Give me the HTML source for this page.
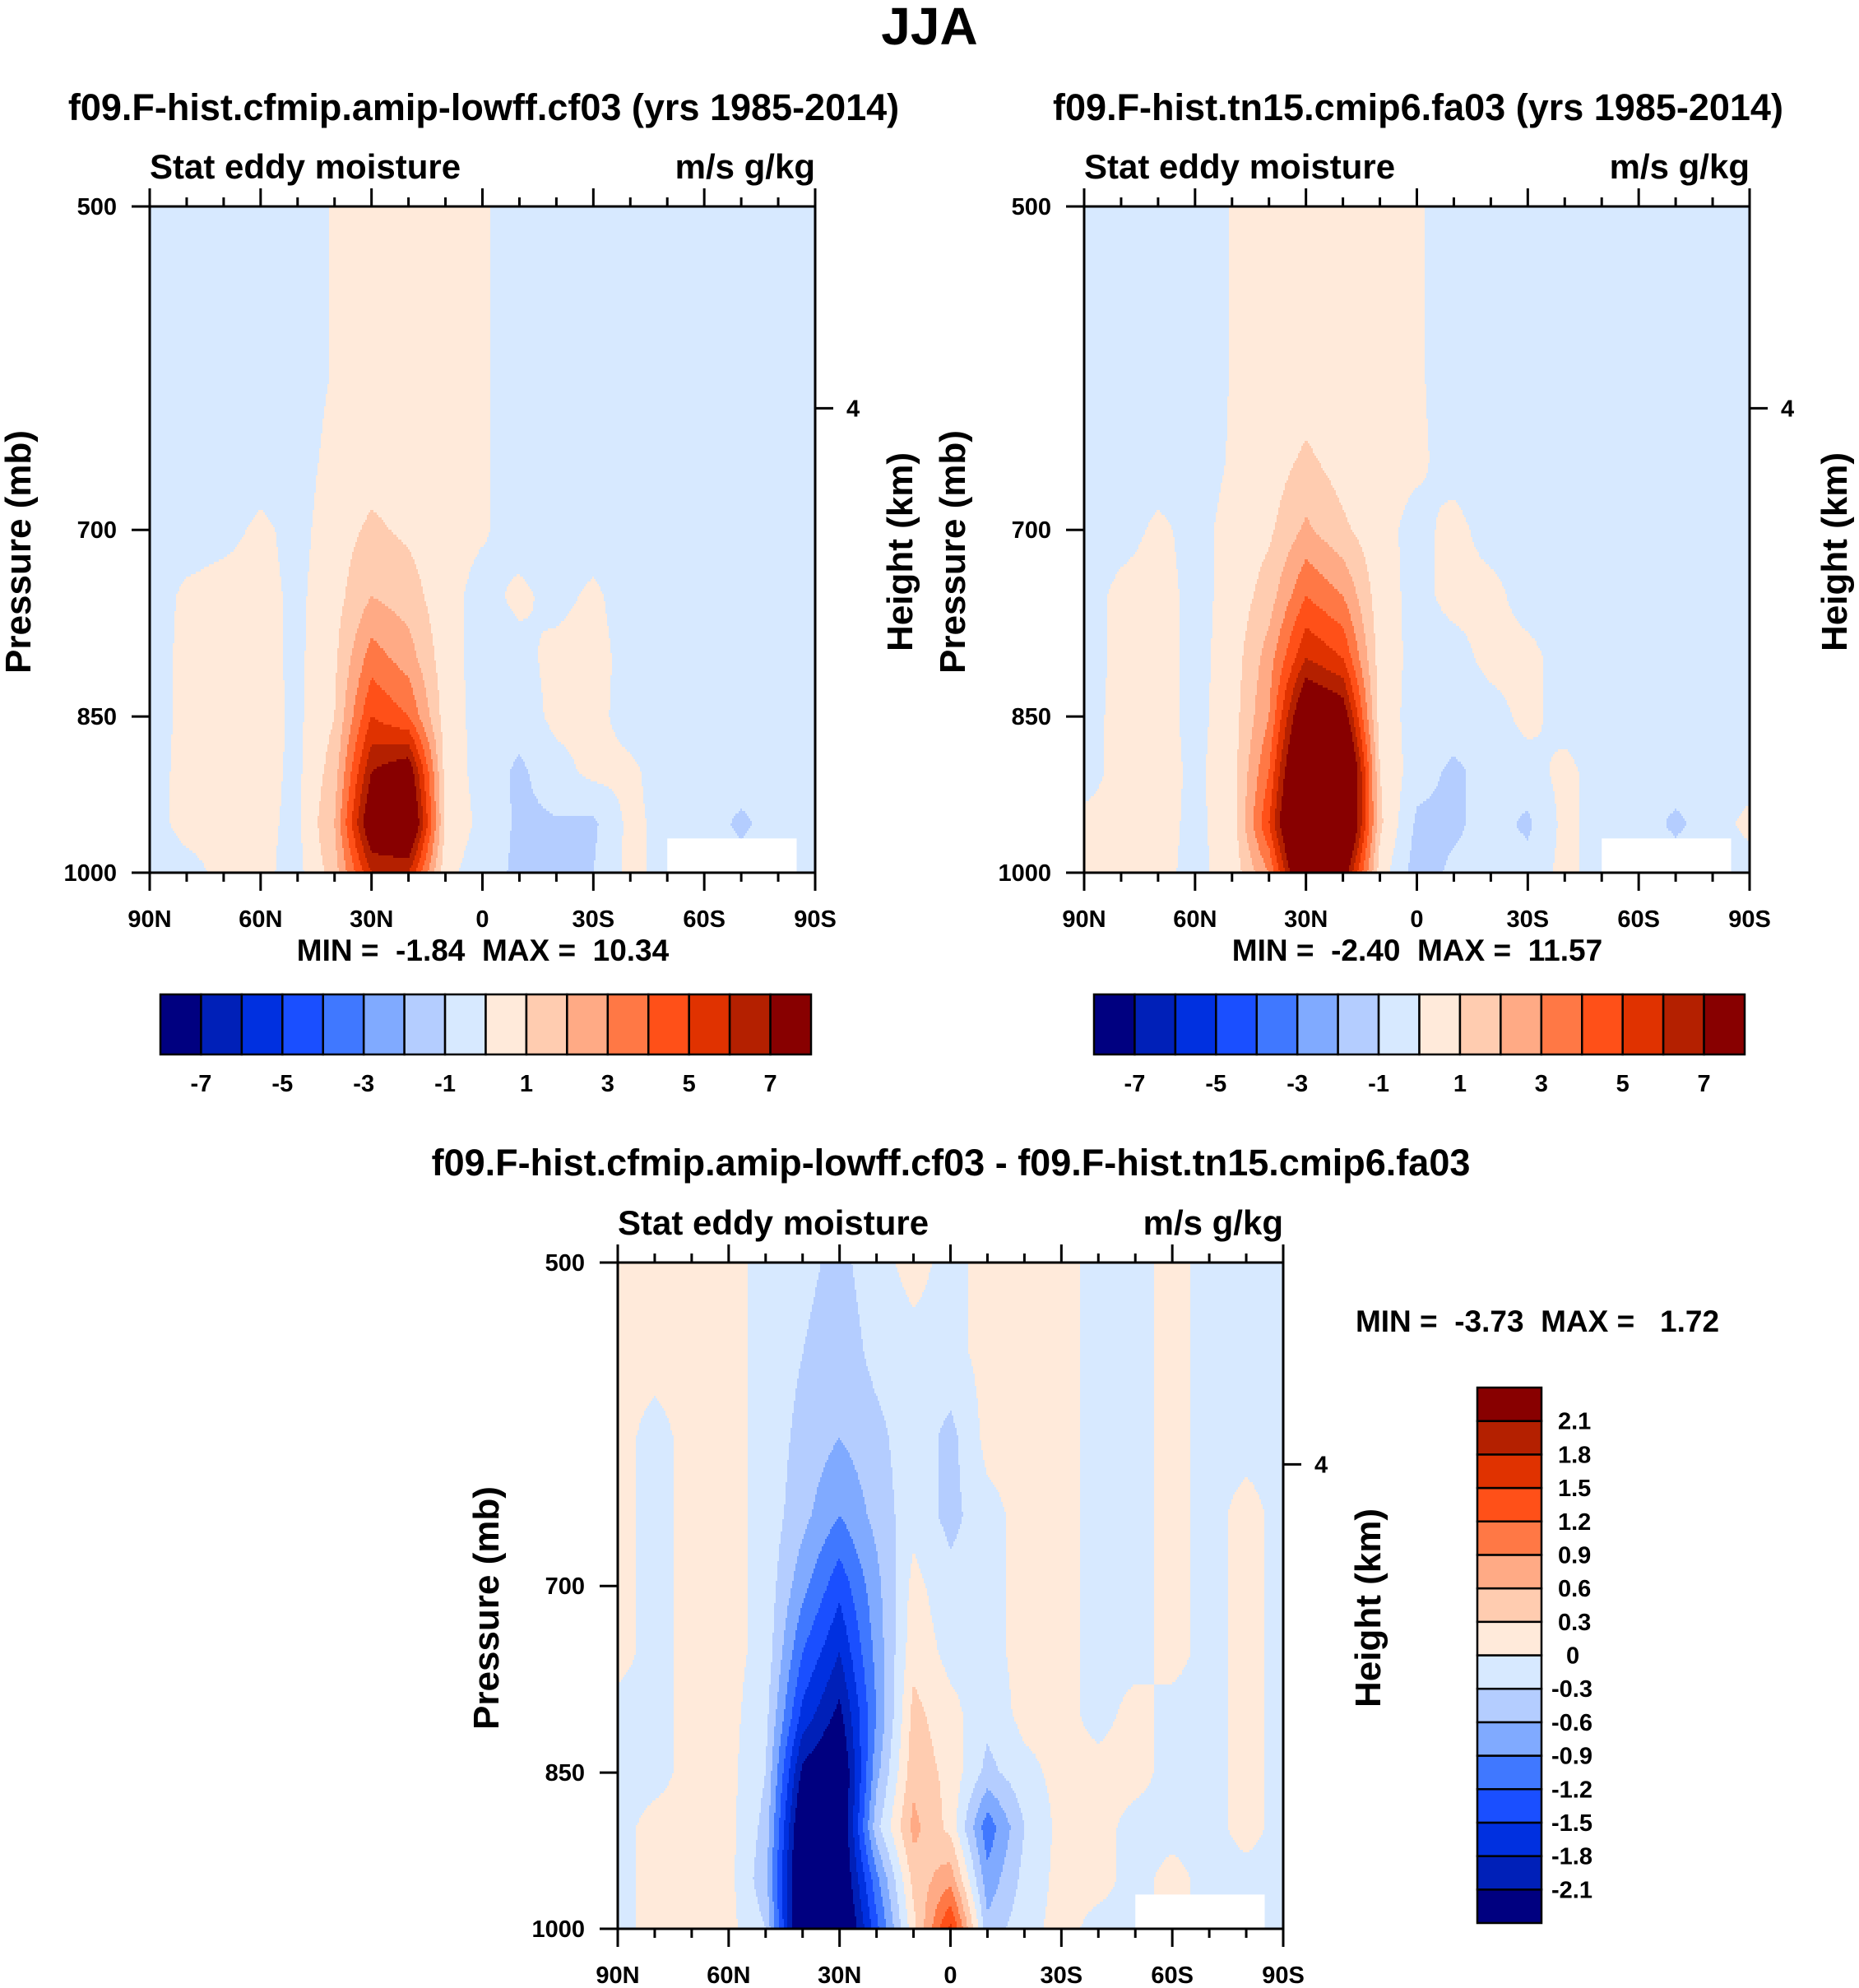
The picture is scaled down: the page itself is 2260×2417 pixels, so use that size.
<!DOCTYPE html>
<html><head><meta charset="utf-8">
<style>
html,body{margin:0;padding:0;background:#fff;}
svg{display:block;font-family:"Liberation Sans",Arial,sans-serif;font-weight:bold;}
.pre{white-space:pre;}
</style></head>
<body>
<svg id="fig" width="2260" height="2417" viewBox="0 0 2260 2417" xmlns="http://www.w3.org/2000/svg">
<text x="1130" y="54" font-size="64" text-anchor="middle">JJA</text>
</svg>
<script>
// ---- data ----
const lats = [90,80,70,60,50,40,30,20,10,0,-10,-20,-30,-40,-50,-60,-70,-80,-90];
const levelsP = [500,550,600,650,700,750,800,850,900,950,1000];
const modelLevels = [-7,-6,-5,-4,-3,-2,-1,0,1,2,3,4,5,6,7];
const modelTickLabels = ["-7","-5","-3","-1","1","3","5","7"];
const diffLevels = [-2.1,-1.8,-1.5,-1.2,-0.9,-0.6,-0.3,0,0.3,0.6,0.9,1.2,1.5,1.8,2.1];
const diffTickLabels = ["-2.1","-1.8","-1.5","-1.2","-0.9","-0.6","-0.3","0","0.3","0.6","0.9","1.2","1.5","1.8","2.1"];
const colors = ["#000080","#0020b8","#0030e0","#1a4fff","#4078ff","#80aaff","#b4cdff","#d7e9ff","#ffeada","#ffccb0","#ffaa85","#ff7845","#ff5018","#e03200","#b42000","#880000"];
const latTicks = [90,60,30,0,-30,-60,-90];
const latTickLabels = ["90N","60N","30N","0","30S","60S","90S"];
const pTicks = [500,700,850,1000];
const missLat = [-50,-85];
const missP = [965,1000];

const grid1 = [
[-.5,-.5,-.5,-.5,-.5,.1,.3,.3,.3,.15,-.5,-.5,-.5,-.5,-.5,-.5,-.5,-.5,-.5],
[-.5,-.5,-.5,-.5,-.5,.1,.3,.3,.3,.15,-.5,-.5,-.5,-.5,-.5,-.5,-.5,-.5,-.5],
[-.5,-.5,-.5,-.5,-.5,.1,.3,.3,.3,.15,-.5,-.5,-.5,-.5,-.5,-.5,-.5,-.5,-.5],
[-.5,-.5,-.5,-.5,-.4,.3,.5,.4,.3,.15,-.5,-.5,-.5,-.5,-.5,-.5,-.5,-.5,-.5],
[-.5,-.5,-.3,.2,-.3,.5,1.2,.8,.3,.1,-.4,-.4,-.5,-.5,-.5,-.5,-.5,-.5,-.5],
[-.5,.2,.4,.3,-.2,.6,2,1.5,.3,-.3,.2,-.3,.2,-.5,-.5,-.5,-.5,-.5,-.5],
[-.5,.3,.5,.3,-.2,.8,3.5,2.5,.4,-.4,-.3,.3,.4,-.4,-.5,-.5,-.5,-.5,-.5],
[-.5,.3,.5,.4,-.2,1,5,4,.5,-.4,-.6,.3,.3,-.4,-.5,-.5,-.5,-.5,-.5],
[-.5,.4,.4,.3,-.2,1.5,7,8,.6,-.4,-1.2,-.4,.3,.2,-.5,-.5,-.5,-.5,-.5],
[-.5,.4,.4,.2,-.2,2,8.5,9.5,.8,-.3,-1.2,-1.1,-1.2,.3,-.4,-.5,-1.2,-.5,-.5],
[-.5,-.4,.3,.2,-.3,1.5,6,6,.3,-.6,-1.2,-1.1,-1,.3,-.4,-.5,-.6,-.5,-.5]
];
const grid2 = [
[-.5,-.5,-.5,-.5,.05,.3,.3,.3,.3,.15,-.5,-.5,-.5,-.5,-.5,-.5,-.5,-.5,-.5],
[-.5,-.5,-.5,-.5,.05,.3,.3,.3,.3,.15,-.5,-.5,-.5,-.5,-.5,-.5,-.5,-.5,-.5],
[-.5,-.5,-.5,-.5,.05,.3,.4,.3,.3,.15,-.5,-.5,-.5,-.5,-.5,-.5,-.5,-.5,-.5],
[-.5,-.5,-.5,-.5,.1,.4,1.2,.5,.3,.2,-.4,-.5,-.5,-.5,-.5,-.5,-.5,-.5,-.5],
[-.5,-.4,.2,-.3,.3,.8,2.2,1.2,.3,-.3,.3,-.4,-.4,-.5,-.5,-.5,-.5,-.5,-.5],
[-.5,.3,.4,-.3,.3,1.5,4,3,.4,-.3,.3,.3,-.4,-.5,-.5,-.5,-.5,-.5,-.5],
[-.5,.3,.4,-.3,.4,2.5,6,5,.5,-.3,-.4,.3,.3,-.4,-.5,-.5,-.5,-.5,-.5],
[-.5,.4,.4,-.3,.5,3,9,8,.5,-.4,-.5,-.4,.3,-.4,-.5,-.5,-.5,-.5,-.5],
[-.5,.4,.4,-.2,.5,4,11,11,1,-.6,-1.2,-.6,-.4,.3,-.5,-.5,-.5,-.5,-.5],
[.3,.4,.3,-.2,.4,5,12,11,1.2,-1.2,-1.2,-.6,-1.2,.3,-.5,-.5,-1.2,-.5,.3],
[.2,.4,.2,-.2,.3,3,10,8,.5,-1.5,-.8,-.6,-.6,.3,-.5,-.5,-.5,-.5,-.5]
];
const grid3 = [
[.1,.1,.1,.1,-.1,-.2,-.4,-.1,.1,-.1,.1,.1,.1,-.1,-.1,.1,-.1,-.1,-.1],
[.1,.1,.1,.1,-.1,-.3,-.5,-.2,-.1,-.1,.1,.1,.1,-.1,-.1,.1,-.1,-.1,-.1],
[.1,-.1,.1,.1,-.1,-.4,-.6,-.4,-.1,-.4,.1,.1,.1,-.1,-.1,.1,-.1,-.1,-.1],
[.1,-.1,.1,.1,-.1,-.5,-.9,-.5,-.1,-.4,-.1,.1,.1,-.1,-.1,.1,-.1,.1,-.1],
[.1,-.1,.1,.1,-.1,-.8,-1.4,-.7,.1,-.2,-.1,.1,.1,-.1,-.1,.1,-.1,.1,-.1],
[.1,-.1,.1,.1,-.1,-1.2,-1.8,-.8,.2,-.1,-.1,.1,.1,-.1,-.1,.1,-.1,.1,-.1],
[-.1,-.1,.1,.1,-.2,-1.6,-2.2,-.9,.4,.1,-.2,.1,.1,-.1,.1,-.1,-.1,.1,-.1],
[-.1,-.1,.1,.1,-.3,-2.2,-2.6,-.7,.5,.2,-.4,-.1,.1,.1,.1,-.1,-.1,.1,-.1],
[-.1,.1,.1,.1,-.4,-2.6,-2.6,-.4,.7,.2,-1.1,-.3,.1,.1,-.1,-.1,-.1,.1,-.1],
[-.1,.1,.1,.1,-.5,-2.8,-2.6,-1.0,.4,.8,-.8,-.2,.1,.1,-.1,.1,-.1,-.1,-.1],
[-.1,.1,.1,.1,-.3,-2.8,-2.8,-1.3,.2,1.6,-.5,-.1,.1,-.1,-.1,.1,-.1,-.1,-.1]
];

const NS="http://www.w3.org/2000/svg";
const svg=document.getElementById('fig');
function mk(tag,attrs,parent,txt){const e=document.createElementNS(NS,tag);for(const k in attrs)e.setAttribute(k,attrs[k]);if(txt!==undefined)e.textContent=txt;(parent||svg).appendChild(e);return e;}

function drawPanel(P){
  const g=mk('g',{});
  
  
  const x0=P.x,x1=P.x+P.w,y0=P.y,y1=P.y+P.h;
  const xOf=lat=>x0+(90-lat)/180*P.w;
  const yOf=p=>y0+Math.log(p/500)/Math.log(2)*P.h;
  const pOf=y=>500*Math.pow(2,(y-y0)/P.h);
  const la=levelsP.map(Math.log);
  const val=(lat,p)=>{
    let fi=(90-lat)/10; fi=Math.max(0,Math.min(17.9999,fi));
    const lp=Math.log(p);
    let j=0; while(j<levelsP.length-2&&lp>la[j+1])j++;
    let fj=(lp-la[j])/(la[j+1]-la[j]); fj=Math.max(0,Math.min(1,fj));
    const i=Math.floor(fi),ti=fi-i,G=P.grid;
    const a=G[j][i]*(1-ti)+G[j][i+1]*ti, b=G[j+1][i]*(1-ti)+G[j+1][i+1]*ti;
    return a*(1-fj)+b*fj;
  };
  const bin=v=>{let k=0;for(const L of P.levels)if(v>=L)k++;return k;};
  const cg=mk('g',{},g);
  
  
  const dy=3,dx=2;
  const flush=(start,end,y,c)=>{
    const r=mk('rect',{x:start,y:y,width:end-start+0.6,height:Math.min(dy+0.6,y1-y),fill:colors[c]},cg);
    
    
  };
  for(let y=y0;y<y1;y+=dy){
    const p=pOf(Math.min(y+dy/2,y1));
    let start=x0,cur=-1;
    for(let x=x0;x<x1;x+=dx){
      const b=bin(val(90-(Math.min(x+dx/2,x1)-x0)/P.w*180,p));
      if(b!==cur){
        if(cur>=0) flush(start,x,y,cur);
        start=x;cur=b;
      }
    }
    flush(start,x1,y,cur);
  }
  const mr=mk('rect',{x:xOf(missLat[0]),y:yOf(missP[0]),width:xOf(missLat[1])-xOf(missLat[0]),height:yOf(missP[1])-yOf(missP[0]),fill:'#fff'},g);
  
  
  const fr=mk('rect',{x:x0,y:y0,width:P.w,height:P.h,fill:'none',stroke:'#000','stroke-width':3},g);
  
  
  for(let lat=90;lat>=-90;lat-=10){
    const major=lat%30===0,L=major?22:11,x=xOf(lat);
    const t1=mk('line',{x1:x,x2:x,y1:y1,y2:y1+L,stroke:'#000','stroke-width':3},g);
    
    
    const t2=mk('line',{x1:x,x2:x,y1:y0,y2:y0-L,stroke:'#000','stroke-width':3},g);
    
    
  }
  latTicks.forEach((lat,i)=>{
    const t=mk('text',{x:xOf(lat),y:y1+66,'font-size':29,'text-anchor':'middle'},g,latTickLabels[i]);
    
    
  });
  pTicks.forEach(p=>{
    const y=yOf(p);
    const l=mk('line',{x1:x0-22,x2:x0,y1:y,y2:y,stroke:'#000','stroke-width':3},g);
    
    
    const t=mk('text',{x:x0-40,y:y+10,'font-size':29,'text-anchor':'end'},g,String(p));
    
    
  });
  const hy=y0+0.303*P.h;
  const hl=mk('line',{x1:x1,x2:x1+22,y1:hy,y2:hy,stroke:'#000','stroke-width':3},g);
  
  
  const ht=mk('text',{x:x1+38,y:hy+10,'font-size':29},g,'4');
  
  
  const cy=(y0+y1)/2;
  const yt=mk('text',{x:x0-145,y:cy+15,'font-size':44,'text-anchor':'middle',transform:`rotate(-90 ${x0-145} ${cy+15})`},g,'Pressure (mb)');
  
  
  const rx=x1+118;
  const rt=mk('text',{x:rx,y:cy+15,'font-size':44,'text-anchor':'middle',transform:`rotate(-90 ${rx} ${cy+15})`},g,'Height (km)');
  
  
  const l1=mk('text',{x:x0,y:y0-34,'font-size':42},g,'Stat eddy moisture');
  
  
  const l2=mk('text',{x:x1,y:y0-34,'font-size':42,'text-anchor':'end'},g,'m/s g/kg');
  
  
  const st=mk('text',{x:P.titleX,y:P.titleY,'font-size':45,'text-anchor':'middle'},g,P.title);
  
  
  const mm=mk('text',{x:P.mmX,y:P.mmY,'font-size':37,'text-anchor':'middle','class':'pre'},g,P.mm);
  
  
  const cb=mk('g',{},g);
  
  
  const C=P.cb;
  colors.forEach((c,i)=>{
    let r;
    if(C.vertical){const bh=C.h/16;r=mk('rect',{x:C.x,y:C.y+(15-i)*bh,width:C.w,height:bh,fill:c,stroke:'#000','stroke-width':2.5},cb);}
    else{const bw=C.w/16;r=mk('rect',{x:C.x+i*bw,y:C.y,width:bw,height:C.h,fill:c,stroke:'#000','stroke-width':2.5},cb);}
    
    
  });
  P.cbLabels.forEach(lab=>{
    const idx=P.levels.indexOf(parseFloat(lab))+1;
    let t;
    if(C.vertical){const y=C.y+(16-idx)*C.h/16;
      t=mk('text',{x:C.x+C.w+(lab==='0'?30:(lab[0]==='-'?12:20)),y:y+10,'font-size':29},cb,lab);}
    else{const x=C.x+idx*C.w/16;t=mk('text',{x:x,y:C.y+C.h+45,'font-size':29,'text-anchor':'middle'},cb,lab);}
    
    
  });
}
drawPanel({name:'panel-cfmip',x:182,y:251,w:809,h:810,grid:grid1,levels:modelLevels,cbLabels:modelTickLabels,
  title:'f09.F-hist.cfmip.amip-lowff.cf03 (yrs 1985-2014)',titleX:588,titleY:146,
  mm:'MIN =  -1.84  MAX =  10.34',mmX:587,mmY:1168,cb:{x:195,y:1209,w:791,h:73}});
drawPanel({name:'panel-cmip6',x:1318,y:251,w:809,h:810,grid:grid2,levels:modelLevels,cbLabels:modelTickLabels,
  title:'f09.F-hist.tn15.cmip6.fa03 (yrs 1985-2014)',titleX:1724,titleY:146,
  mm:'MIN =  -2.40  MAX =  11.57',mmX:1723,mmY:1168,cb:{x:1330,y:1209,w:791,h:73}});
drawPanel({name:'panel-difference',x:751,y:1535,w:809,h:810,grid:grid3,levels:diffLevels,cbLabels:diffTickLabels,
  title:'f09.F-hist.cfmip.amip-lowff.cf03 - f09.F-hist.tn15.cmip6.fa03',titleX:1156,titleY:1429,
  mm:'MIN =  -3.73  MAX =   1.72',mmX:1869,mmY:1619,cb:{x:1796,y:1687,w:78,h:651,vertical:true}});
</script>
</body></html>
